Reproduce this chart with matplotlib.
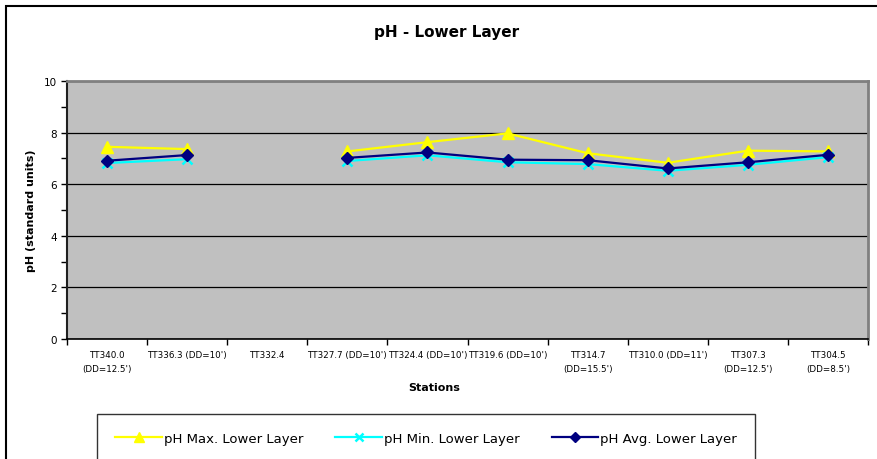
import numpy as np
import matplotlib
matplotlib.use('Agg')
import matplotlib.pyplot as plt
from matplotlib.patches import Rectangle

stations = ["TT340.0\n(DD=12.5')", "TT336.3 (DD=10')", "TT332.4",
            "TT327.7 (DD=10')", "TT324.4 (DD=10')", "TT319.6 (DD=10')",
            "TT314.7\n(DD=15.5')", "TT310.0 (DD=11')", "TT307.3\n(DD=12.5')",
            "TT304.5\n(DD=8.5')"]
ph_max = [7.45, 7.36, np.nan, 7.27, 7.63, 7.97, 7.20, 6.83, 7.30, 7.27]
ph_min = [6.82, 6.97, np.nan, 6.90, 7.12, 6.85, 6.78, 6.52, 6.75, 7.05]
ph_avg = [6.91, 7.13, np.nan, 7.02, 7.23, 6.95, 6.93, 6.61, 6.85, 7.14]

W, H = 878, 460
fig = plt.figure(figsize=(W / 100, H / 100), dpi=100)
fig.patch.set_facecolor('white')

# outer chart frame, runs off the right and bottom edges
fig.patches.append(Rectangle((6 / W, -0.1), 1.0, 1 - 7 / H + 0.1,
                             transform=fig.transFigure, fill=False,
                             edgecolor='black', linewidth=1.5))

ax = fig.add_axes([67 / W, 1 - 340 / H, (868 - 67) / W, (340 - 82) / H])
ax.set_facecolor('#C0C0C0')

x = np.arange(len(stations))
ax.plot(x, ph_max, color='#FFFF00', lw=1.6, marker='^', ms=9,
        mec='#FFFF00', mfc='#FFFF00', label='pH Max. Lower Layer', zorder=3)
ax.plot(x, ph_min, color='#00FFFF', lw=1.6, marker='x', ms=7, mew=1.8,
        mec='#00FFFF', label='pH Min. Lower Layer', zorder=4)
ax.plot(x, ph_avg, color='#000080', lw=1.6, marker='D', ms=6.5,
        mec='#000080', mfc='#000080', label='pH Avg. Lower Layer', zorder=5)

ax.set_xlim(-0.5, len(stations) - 0.5)
ax.set_ylim(0, 10)
ax.set_yticks(range(0, 11, 2))
ax.set_yticks(range(1, 10, 2), minor=True)
ax.yaxis.grid(True, which='major', color='black', lw=0.9)
ax.set_axisbelow(True)

ax.set_xticks(x)
ax.set_xticklabels(stations, fontsize=6.3, linespacing=1.7)
ax.set_xticks(np.arange(-0.5, len(stations), 1), minor=True)
ax.tick_params(axis='x', which='major', length=0, pad=8)
ax.tick_params(axis='x', which='minor', length=4, direction='out', width=1)
ax.tick_params(axis='y', which='both', length=4, direction='out', width=1,
               labelsize=7.5, pad=3)

for s in ('top', 'right'):
    ax.spines[s].set_color('#808080')
    ax.spines[s].set_linewidth(2)
ax.spines['left'].set_color('#202020')
ax.spines['left'].set_linewidth(1.5)
ax.spines['bottom'].set_color('black')
ax.spines['bottom'].set_linewidth(1.2)

fig.text(447 / W, 1 - 33 / H, 'pH - Lower Layer', ha='center', va='center',
         fontsize=11, fontweight='bold')
fig.text(434 / W, 1 - 388 / H, 'Stations', ha='center', va='center',
         fontsize=8, fontweight='bold')
fig.text(31 / W, 1 - 211 / H, 'pH (standard units)', ha='center',
         va='center', rotation=90, fontsize=8, fontweight='bold')

leg = fig.legend(loc='upper left', bbox_to_anchor=(97 / W, 1 - 415 / H,
                                                   (755 - 97) / W, 0.001),
                 ncol=3, mode='expand', fontsize=9.5, frameon=True,
                 fancybox=False, handlelength=3.5, handletextpad=0.15,
                 borderpad=1.4, borderaxespad=0, markerscale=0.85)
leg.get_frame().set_edgecolor('black')
leg.get_frame().set_linewidth(1)

plt.savefig('out.png', dpi=100)
